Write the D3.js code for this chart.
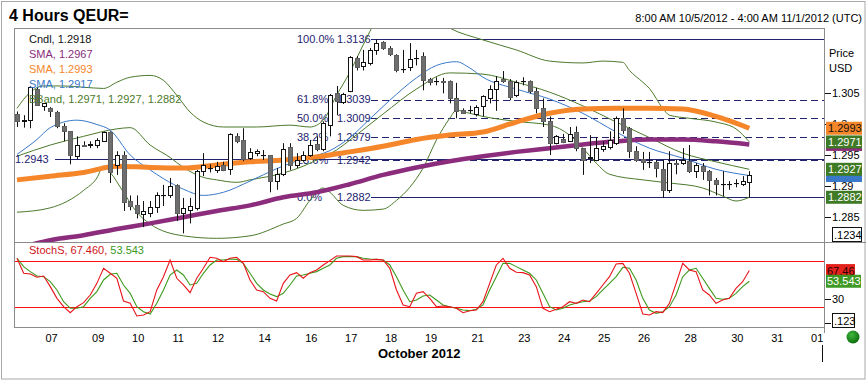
<!DOCTYPE html>
<html><head><meta charset="utf-8">
<script src="https://cdn.jsdelivr.net/npm/d3@7"></script>
<style>
body{margin:0;background:#fff}
svg{display:block}
text{font-family:"Liberation Sans",Arial,sans-serif}
</style>
</head><body>
<svg id="chart" width="867" height="382"></svg>
<script>
// ---------- DATA (4-hour candles, QEUR=) ----------
const open  = [1.3016,1.3005,1.3006,1.3056,1.3029,1.3025,1.3019,1.2996,1.2988,1.2948,
               1.2966,1.2966,1.2966,1.2972,1.2987,1.2934,1.2950,1.2876,1.2869,1.2855,
               1.2857,1.2866,1.2885,1.2885,1.2902,1.2857,1.2861,1.2865,1.2924,1.2929,
               1.2926,1.2934,1.2927,1.2980,1.2974,1.2945,1.2953,1.2950,1.2950,1.2908,
               1.2919,1.2963,1.2934,1.2942,1.2950,1.2967,1.2959,1.2998,1.3049,1.3035,
               1.3053,1.3106,1.3093,1.3098,1.3119,1.3131,1.3122,1.3111,1.3088,1.3091,
               1.3106,1.3109,1.3072,1.3069,1.3069,1.3069,1.3041,1.3022,1.3022,1.3016,
               1.3029,1.3041,1.3056,1.3072,1.3069,1.3046,1.3069,1.3069,1.3053,1.3025,
               1.3004,1.2969,1.2975,1.2972,1.2987,1.2961,1.2945,1.2942,1.2959,1.2963,
               1.2969,1.3009,1.2993,1.2956,1.2943,1.2938,1.2938,1.2927,1.2894,1.2937,
               1.2937,1.2940,1.2924,1.2932,1.2924,1.2910,1.2903,1.2903,1.2905,1.2903,1.2906];
const high  = [1.3020,1.3014,1.3061,1.3059,1.3033,1.3027,1.3021,1.3001,1.2988,1.2980,
               1.2972,1.2972,1.2977,1.2988,1.2988,1.2956,1.2956,1.2885,1.2885,1.2876,
               1.2876,1.2890,1.2902,1.2913,1.2903,1.2881,1.2881,1.2926,1.2953,1.2935,
               1.2939,1.2939,1.2985,1.2985,1.2993,1.2961,1.2959,1.2958,1.2950,1.2929,
               1.2969,1.2969,1.2953,1.2956,1.2974,1.2980,1.3004,1.3048,1.3061,1.3050,
               1.3109,1.3109,1.3119,1.3122,1.3136,1.3133,1.3125,1.3112,1.3119,1.3130,
               1.3119,1.3115,1.3074,1.3075,1.3074,1.3070,1.3066,1.3025,1.3029,1.3030,
               1.3046,1.3062,1.3077,1.3085,1.3072,1.3070,1.3075,1.3070,1.3058,1.3041,
               1.3012,1.2982,1.2984,1.2995,1.2996,1.2961,1.2982,1.2979,1.2972,1.2988,
               1.3012,1.3025,1.2995,1.2964,1.2955,1.2955,1.2942,1.2942,1.2956,1.2942,
               1.2961,1.2966,1.2937,1.2937,1.2926,1.2913,1.2924,1.2908,1.2911,1.2916,1.2924];
const low   = [1.2995,1.2994,1.2993,1.3029,1.3021,1.3011,1.2993,1.2972,1.2935,1.2943,
               1.2963,1.2961,1.2961,1.2971,1.2905,1.2918,1.2860,1.2861,1.2848,1.2834,
               1.2850,1.2857,1.2868,1.2881,1.2844,1.2824,1.2840,1.2861,1.2916,1.2922,
               1.2921,1.2924,1.2918,1.2969,1.2940,1.2942,1.2948,1.2942,1.2890,1.2894,
               1.2916,1.2926,1.2929,1.2939,1.2947,1.2956,1.2956,1.2980,1.3014,1.3032,
               1.3051,1.3086,1.3086,1.3094,1.3111,1.3119,1.3109,1.3083,1.3082,1.3085,
               1.3094,1.3054,1.3062,1.3062,1.3049,1.3033,1.3009,1.3016,1.3017,1.3012,
               1.3012,1.3033,1.3021,1.3066,1.3038,1.3043,1.3062,1.3049,1.3017,1.2995,
               1.2950,1.2967,1.2969,1.2971,1.2956,1.2918,1.2937,1.2940,1.2955,1.2959,
               1.2966,1.2984,1.2945,1.2939,1.2926,1.2929,1.2914,1.2881,1.2889,1.2919,
               1.2934,1.2921,1.2913,1.2910,1.2885,1.2885,1.2884,1.2894,1.2898,1.2900,1.2882];
const close = [1.3005,1.3006,1.3059,1.3030,1.3033,1.3021,1.2996,1.2988,1.2950,1.2966,
               1.2965,1.2967,1.2974,1.2987,1.2922,1.2950,1.2874,1.2868,1.2857,1.2860,
               1.2866,1.2885,1.2886,1.2900,1.2857,1.2865,1.2868,1.2924,1.2934,1.2929,
               1.2932,1.2926,1.2984,1.2972,1.2943,1.2955,1.2956,1.2950,1.2908,1.2919,
               1.2959,1.2934,1.2942,1.2950,1.2966,1.2959,1.3001,1.3046,1.3037,1.3048,
               1.3107,1.3091,1.3099,1.3119,1.3130,1.3122,1.3112,1.3086,1.3088,1.3104,
               1.3106,1.3070,1.3067,1.3069,1.3067,1.3041,1.3021,1.3017,1.3022,1.3027,
               1.3045,1.3056,1.3069,1.3069,1.3043,1.3067,1.3069,1.3053,1.3025,1.3004,
               1.2969,1.2980,1.2971,1.2984,1.2961,1.2942,1.2947,1.2961,1.2964,1.2974,
               1.3009,1.2990,1.2956,1.2942,1.2938,1.2939,1.2929,1.2894,1.2937,1.2936,
               1.2942,1.2924,1.2934,1.2924,1.2910,1.2903,1.2904,1.2904,1.2905,1.2908,1.2918];

// moving averages / bands, read as [bar index, price]
const smaSlow = [[0,1.2800],[5,1.2813],[10,1.2821],[15,1.2831],[20,1.2840],[25,1.2850],[30,1.2860],
  [35,1.2869],[40,1.2882],[45,1.2890],[50,1.2903],[55,1.2918],[60,1.2930],[65,1.2940],[70,1.2948],
  [75,1.2955],[80,1.2961],[85,1.2967],[90,1.2972],[95,1.2975],[100,1.2975],[105,1.2972],[110,1.2967]];
const smaMid = [[0,1.2910],[5,1.2916],[10,1.2922],[15,1.2932],[20,1.2930],[25,1.2929],[30,1.2934],
  [35,1.2939],[40,1.2942],[45,1.2947],[50,1.2955],[55,1.2964],[60,1.2975],[65,1.2982],[70,1.2987],
  [75,1.3003],[80,1.3017],[85,1.3024],[90,1.3025],[95,1.3025],[100,1.3024],[105,1.3012],[110,1.2993]];
const smaFast = [[0,1.2951],[3,1.2975],[5,1.2994],[9,1.3006],[12,1.2999],[14,1.2990],[17,1.2950],
  [20,1.2926],[22,1.2912],[25,1.2895],[28,1.2885],[31,1.2890],[35,1.2908],[39,1.2928],[43,1.2944],
  [47,1.2957],[50,1.2978],[53,1.3008],[56,1.3038],[60,1.3074],[63,1.3094],[66,1.3100],[68,1.3090],
  [70,1.3075],[75,1.3056],[80,1.3040],[85,1.3017],[90,1.2987],[95,1.2961],[100,1.2945],[105,1.2927],[110,1.2917]];
const bbUpper = [[0,1.3025],[2,1.3051],[4,1.3061],[7,1.3061],[10,1.3059],[13,1.3057],[15,1.3067],
  [17,1.3075],[20,1.3078],[22,1.3070],[24,1.3046],[26,1.3019],[28,1.3003],[31,1.2995],[36,1.2995],
  [41,1.2998],[44,1.2995],[46,1.3006],[48,1.3046],[50,1.3083],[52,1.3127],[54,1.3167],[56,1.3186],
  [58,1.3194],[61,1.3183],[65,1.3154],[70,1.3135],[75,1.3119],[80,1.3101],[85,1.3098],[88,1.3101],
  [91,1.3099],[92,1.3086],[94,1.3067],[95,1.3057],[97,1.3025],[98,1.3014],[101,1.3009],[105,1.3003],
  [108,1.2992],[110,1.2971]];
const bbMiddle = [[0,1.2948],[5,1.2966],[10,1.2980],[15,1.2992],[17,1.2994],[20,1.2966],[23,1.2946],
  [25,1.2930],[28,1.2914],[30,1.2910],[33,1.2906],[35,1.2910],[40,1.2921],[43,1.2932],[45,1.2942],
  [48,1.2958],[50,1.2974],[55,1.3016],[60,1.3056],[65,1.3082],[70,1.3080],[75,1.3067],[80,1.3051],
  [85,1.3029],[90,1.3003],[95,1.2978],[100,1.2953],[105,1.2939],[110,1.2927]];
const bbLower = [[0,1.2858],[5,1.2865],[10,1.2893],[12,1.2913],[13,1.2932],[14,1.2922],[16,1.2890],
  [18,1.2858],[20,1.2839],[25,1.2820],[30,1.2816],[35,1.2820],[40,1.2839],[42,1.2848],[44,1.2877],
  [46,1.2897],[47,1.2890],[49,1.2869],[52,1.2861],[55,1.2863],[57,1.2877],[59,1.2898],[61,1.2929],
  [63,1.2974],[65,1.3009],[66,1.3022],[68,1.3017],[70,1.3012],[75,1.3004],[80,1.2998],[83,1.2982],
  [85,1.2961],[87,1.2937],[89,1.2919],[94,1.2910],[98,1.2905],[103,1.2897],[106,1.2884],[108,1.2876],[110,1.2882]];

// slow stochastics (%K red, %D green)
const stochK = [83.5,63.9,63.0,58.7,60.4,46.5,31.3,20.4,12.6,20.4,
  25.6,35.6,50.8,70.4,63.9,57.4,27.8,24.8,8.3,9.6,
  13.9,42.2,59.5,81.3,57.4,48.7,38.7,57.4,70.4,84.8,
  83.5,79.1,83.5,84.8,76.9,55.2,42.2,40.0,31.3,27.8,
  50.8,61.7,64.8,57.4,64.8,68.2,74.8,80.4,86.5,86.5,
  86.5,85.6,81.3,81.3,82.1,81.3,70.4,42.2,22.6,20.4,
  37.8,40.0,31.3,20.4,21.3,20.4,18.3,12.6,15.2,16.1,
  26.9,50.8,74.8,83.5,70.4,65.2,64.8,61.7,46.5,18.3,
  13.9,17.0,20.4,26.9,24.8,29.1,26.9,37.8,48.7,59.5,
  76.0,76.9,63.9,37.8,10.9,9.6,13.9,12.6,24.8,50.8,
  76.9,68.2,66.1,42.2,35.6,24.8,29.1,31.3,44.3,53.0,67.46];
const stochD = [83.5,72.6,66.1,60.4,59.5,53.0,42.2,26.9,18.3,18.3,
  20.4,31.3,40.0,55.2,62.6,63.9,48.7,37.8,20.4,13.9,
  10.9,24.8,42.2,61.7,68.2,61.7,48.7,50.8,63.9,74.8,
  81.3,81.3,82.6,82.1,76.9,63.9,50.8,42.2,37.0,33.5,
  37.8,48.7,60.4,61.7,63.9,66.1,70.4,74.8,83.5,85.6,
  85.6,85.6,83.5,82.6,82.1,81.3,74.8,59.5,42.2,26.9,
  29.1,34.3,35.6,29.1,22.6,20.4,18.3,16.1,15.2,17.0,
  22.6,42.2,59.5,76.9,76.9,72.6,68.2,63.9,55.2,37.8,
  20.4,16.1,18.3,22.6,24.8,26.9,27.8,33.5,42.2,50.8,
  59.5,71.7,70.4,55.2,31.3,16.1,11.7,13.9,20.4,35.6,
  59.5,68.2,70.4,57.4,44.3,31.3,30.0,31.3,37.8,46.5,53.543];
const stochLevels = [80, 20];

// axis ticks
const dayTickIdx = [5,12,18,24,30,37,44,50,56,62,69,76,82,88,94,101,108,114,120];
const dayTickLabels = ["07","09","10","11","12","14","16","17","18","19","21","23","24","25","26","28","30","31","01"];
const priceTicks = [1.285,1.29,1.295,1.3,1.305];
const priceTickLabels = ["1.285","1.29","1.295","1.3","1.305"];
const stochTicks = [30];

// fibonacci retracement
const fibLevels = [1.3136,1.3039,1.3009,1.2979,1.2942,1.2882];
const fibPct = ["100.0%","61.8%","50.0%","38.2%","23.6%","0.0%"];
const hLineLevel = 1.2943;

// ---------- DRAW ----------
const L = 14, R = 824, mainTop = 28, mainBot = 242, stTop = 242, stBot = 327;
const NAVY = "#23236f", GREEN = "#4b7a2b", PURPLE = "#8b2c7c", ORANGE = "#f5862a", BLUE = "#3a78c8";
const STRED = "#ff1010", STGREEN = "#3c9a1c";
const svg = d3.select("#chart");

const x = d3.scaleLinear().domain([-0.45, 121.22]).range([L, R]);
const y = d3.scaleLinear().domain([1.28101, 1.31542]).range([mainBot, mainTop]);
const ys = d3.scaleLinear().domain([-6.08, 104.7]).range([stBot, stTop]);
const crisp = v => Math.round(v) + 0.5;

svg.append("rect").attr("x",1.5).attr("y",1.5).attr("width",863.5).attr("height",377.5)
  .attr("fill","#fff").attr("stroke","#a9a9a9");

const defs = svg.append("defs");
defs.append("clipPath").attr("id","clipMain").append("rect")
  .attr("x",L).attr("y",mainTop+1).attr("width",R-L).attr("height",mainBot-mainTop-1);
defs.append("clipPath").attr("id","clipSt").append("rect")
  .attr("x",L).attr("y",stTop+1).attr("width",R-L).attr("height",stBot-stTop-1);
const grad = defs.append("radialGradient").attr("id","dot").attr("cx","40%").attr("cy","35%").attr("r","65%");
grad.append("stop").attr("offset","0%").attr("stop-color","#3fb83f");
grad.append("stop").attr("offset","100%").attr("stop-color","#0c6e0c");

// title & range
svg.append("text").attr("x",9).attr("y",21).attr("font-size",16).attr("font-weight","bold").text("4 Hours QEUR=");
svg.append("text").attr("x",862).attr("y",22).attr("font-size",11).attr("text-anchor","end")
  .text("8:00 AM 10/5/2012 - 4:00 AM 11/1/2012 (UTC)");

// frames
const frame = svg.append("g").attr("stroke","#8c8c8c").attr("stroke-width",1);
frame.append("line").attr("x1",L+0.5).attr("x2",L+0.5).attr("y1",mainTop).attr("y2",stBot);
frame.append("line").attr("x1",L).attr("x2",R).attr("y1",mainTop+0.5).attr("y2",mainTop+0.5);
frame.append("line").attr("x1",R+0.5).attr("x2",R+0.5).attr("y1",mainTop).attr("y2",stBot+6);
frame.append("line").attr("x1",L).attr("x2",866).attr("y1",stTop+0.5).attr("y2",stTop+0.5);
frame.append("line").attr("x1",L).attr("x2",R).attr("y1",stBot+0.5).attr("y2",stBot+0.5);

// ---- main panel ----
const main = svg.append("g").attr("clip-path","url(#clipMain)");

main.append("line").attr("x1",55).attr("x2",R).attr("y1",crisp(y(hLineLevel))).attr("y2",crisp(y(hLineLevel)))
  .attr("stroke",NAVY).attr("stroke-width",1.2);
svg.append("text").attr("x",15).attr("y",y(hLineLevel)).attr("dy","0.35em").attr("font-size",11)
  .attr("fill",NAVY).text(hLineLevel.toFixed(4));
fibLevels.forEach((lv,k) => {
  const yy = crisp(y(lv));
  const solid = (k===0 || k===fibLevels.length-1);
  main.append("line").attr("x1",371).attr("x2",R).attr("y1",yy).attr("y2",yy)
    .attr("stroke",NAVY).attr("stroke-width",1.2).attr("stroke-dasharray",solid?null:"7,4");
  main.append("text").attr("x",297).attr("y",y(lv)).attr("dy","0.35em").attr("font-size",11).attr("fill",NAVY).text(fibPct[k]);
  main.append("text").attr("x",337).attr("y",y(lv)).attr("dy","0.35em").attr("font-size",11).attr("fill",NAVY).text(lv.toFixed(4));
});

const lineGen = d3.line().x(d=>x(d[0])).y(d=>y(d[1])).curve(d3.curveMonotoneX);
[[bbUpper,GREEN,1],[bbMiddle,GREEN,1],[bbLower,GREEN,1],[smaFast,BLUE,1],[smaSlow,PURPLE,4.5],[smaMid,ORANGE,5]]
.forEach(([d,c,w]) => main.append("path").datum(d).attr("d",lineGen).attr("fill","none")
  .attr("stroke",c).attr("stroke-width",w).attr("stroke-linejoin","round"));

// candles
const idx = d3.range(close.length);
const cg = main.append("g");
cg.selectAll("line.wick").data(idx).join("line")
  .attr("x1",i=>crisp(x(i))).attr("x2",i=>crisp(x(i)))
  .attr("y1",i=>y(high[i])).attr("y2",i=>y(low[i]))
  .attr("stroke","#111").attr("stroke-width",1);
cg.selectAll("rect.body").data(idx).join("rect")
  .attr("x",i=>Math.round(x(i))-2+0.5).attr("width",4)
  .attr("y",i=>Math.round(y(Math.max(open[i],close[i])))+0.5)
  .attr("height",i=>Math.max(0.1, Math.round(y(Math.min(open[i],close[i]))) - Math.round(y(Math.max(open[i],close[i])))))
  .attr("fill",i=>close[i]>=open[i]?"#fff":"#6e6e6e")
  .attr("stroke",i=>close[i]>=open[i]?"#111":"#5e5e5e").attr("stroke-width",1);

// legend
const leg = [["Cndl, 1.2918","#111"],["SMA, 1.2967",PURPLE],["SMA, 1.2993",ORANGE],["SMA, 1.2917",BLUE],["BBand, 1.2971, 1.2927, 1.2882",GREEN]];
leg.forEach((l,k)=>svg.append("text").attr("x",29).attr("y",43+15*k).attr("font-size",11).attr("fill",l[1]).text(l[0]));

// price axis
svg.append("text").attr("x",829).attr("y",57).attr("font-size",11).text("Price");
svg.append("text").attr("x",829).attr("y",72).attr("font-size",11).text("USD");
priceTicks.forEach((p,k)=>{
  svg.append("line").attr("x1",825).attr("x2",831).attr("y1",crisp(y(p))).attr("y2",crisp(y(p))).attr("stroke","#111");
  svg.append("text").attr("x",832).attr("y",y(p)).attr("dy","0.35em").attr("font-size",11).text(priceTickLabels[k]);
});
// last-value tags: [value, background, text colour, show text]
const lbls = [
  [smaSlow[smaSlow.length-1][1], PURPLE, "#fff", false],
  [smaFast[smaFast.length-1][1], BLUE, "#fff", false],
  [smaMid[smaMid.length-1][1], ORANGE, "#111", true],
  [bbUpper[bbUpper.length-1][1], "#3f7a25", "#fff", true],
  [bbMiddle[bbMiddle.length-1][1], "#3f7a25", "#fff", true],
  [bbLower[bbLower.length-1][1], "#3f7a25", "#fff", true]
];
lbls.forEach(([v,bg,fg,show])=>{
  const yy = y(v);
  svg.append("rect").attr("x",826).attr("y",yy-6.5).attr("width",36).attr("height",13).attr("fill",bg);
  if (show) svg.append("text").attr("x",828).attr("y",yy).attr("dy","0.36em").attr("font-size",11).attr("fill",fg).text(v.toFixed(4));
});
svg.append("rect").attr("x",832.5).attr("y",227.5).attr("width",29).attr("height",14).attr("fill","#fff").attr("stroke","#111");
svg.append("text").attr("x",834).attr("y",238.5).attr("font-size",11).text(".1234");

// ---- stochastic panel ----
const st = svg.append("g");
stochLevels.forEach(v=>st.append("line").attr("x1",L+1).attr("x2",R).attr("y1",crisp(ys(v))).attr("y2",crisp(ys(v)))
  .attr("stroke",STRED).attr("stroke-width",1));
const stLines = st.append("g").attr("clip-path","url(#clipSt)");
const sl = d3.line().x((d,i)=>x(i)).y(d=>ys(d));
stLines.append("path").datum(stochD).attr("d",sl).attr("fill","none").attr("stroke",STGREEN).attr("stroke-width",1.1);
stLines.append("path").datum(stochK).attr("d",sl).attr("fill","none").attr("stroke","#e8141a").attr("stroke-width",1.1);

const stLeg = svg.append("text").attr("x",29).attr("y",254).attr("font-size",11);
stLeg.append("tspan").attr("fill","#d0141a").text("StochS, 67.460, ");
stLeg.append("tspan").attr("fill",STGREEN).text("53.543");

stochTicks.forEach(v=>{
  svg.append("line").attr("x1",825).attr("x2",831).attr("y1",crisp(ys(v))).attr("y2",crisp(ys(v))).attr("stroke","#111");
  svg.append("text").attr("x",832).attr("y",ys(v)).attr("dy","0.35em").attr("font-size",11).text(v);
});
const kLast = stochK[stochK.length-1], dLast = stochD[stochD.length-1];
svg.append("rect").attr("x",826).attr("y",ys(kLast)-6.5).attr("width",29).attr("height",13).attr("fill","#e5231d");
svg.append("text").attr("x",827).attr("y",ys(kLast)).attr("dy","0.36em").attr("font-size",11).attr("fill","#2a0000").text(kLast.toFixed(2));
svg.append("rect").attr("x",826).attr("y",ys(dLast)-6.5).attr("width",35).attr("height",13).attr("fill","#3f9a25");
svg.append("text").attr("x",827).attr("y",ys(dLast)).attr("dy","0.36em").attr("font-size",11).attr("fill","#fff").text(dLast.toFixed(3));
svg.append("line").attr("x1",825).attr("x2",831).attr("y1",323.5).attr("y2",323.5).attr("stroke","#111");
svg.append("rect").attr("x",832.5).attr("y",313.5).attr("width",22).attr("height",14).attr("fill","#fff").attr("stroke","#111");
svg.append("text").attr("x",834).attr("y",324.5).attr("font-size",11).text(".123");

// ---- time axis ----
dayTickIdx.forEach((t,k)=>svg.append("text").attr("x",x(t+0.2)).attr("y",342).attr("font-size",11)
  .attr("text-anchor","middle").text(dayTickLabels[k]));
svg.append("text").attr("x",378).attr("y",358).attr("font-size",13).attr("font-weight","bold").text("October 2012");
svg.append("line").attr("x1",822.5).attr("x2",822.5).attr("y1",345).attr("y2",362).attr("stroke","#111");
svg.append("circle").attr("cx",853).attr("cy",337).attr("r",6.5).attr("fill","url(#dot)");
</script>
</body></html>
